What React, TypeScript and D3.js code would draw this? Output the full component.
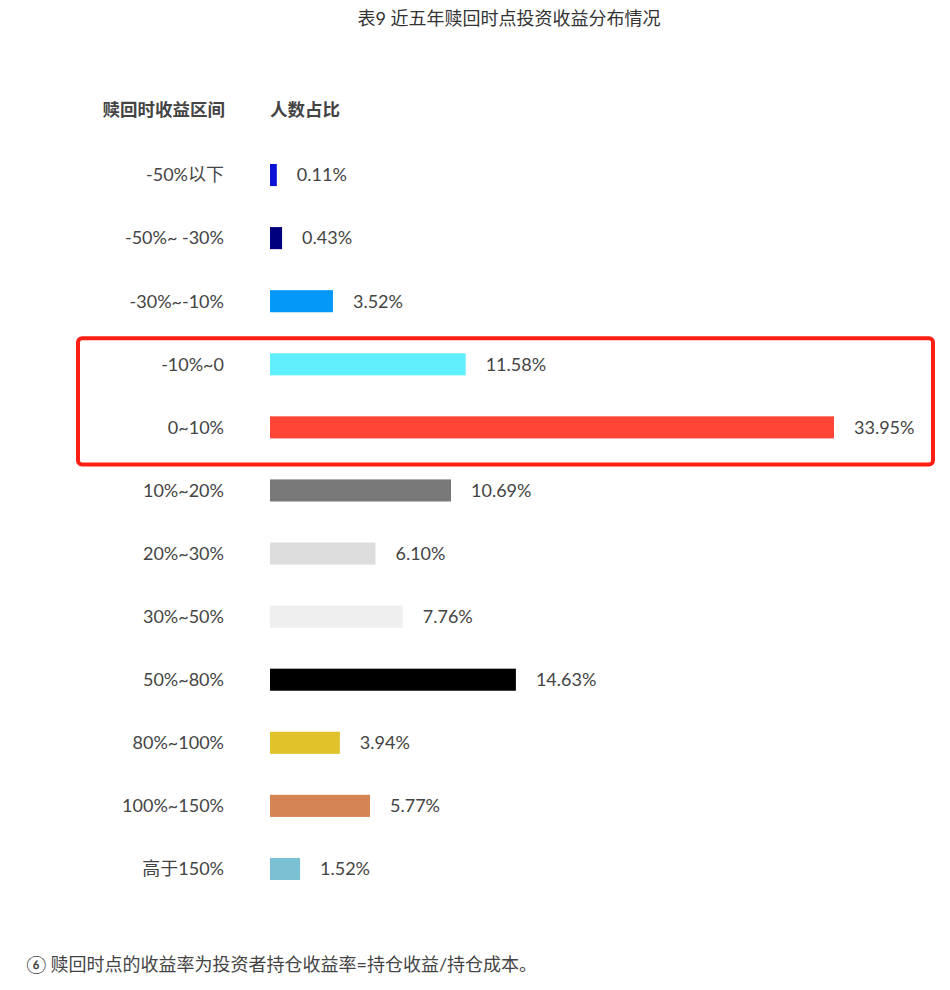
import React from "react";
import * as d3 from "d3";

const title = "表9 近五年赎回时点投资收益分布情况";
const headerCategory = "赎回时收益区间";
const headerValue = "人数占比";
const footnote = "⑥ 赎回时点的收益率为投资者持仓收益率=持仓收益/持仓成本。";

const categories = [
  "-50%以下",
  "-50%~ -30%",
  "-30%~-10%",
  "-10%~0",
  "0~10%",
  "10%~20%",
  "20%~30%",
  "30%~50%",
  "50%~80%",
  "80%~100%",
  "100%~150%",
  "高于150%",
];
const values = [0.11, 0.43, 3.52, 11.58, 33.95, 10.69, 6.1, 7.76, 14.63, 3.94, 5.77, 1.52];
const colors = [
  "#0b12d6",
  "#00007f",
  "#0399f9",
  "#60f0fd",
  "#ff4535",
  "#787878",
  "#dcdcdc",
  "#efefef",
  "#000000",
  "#e0c22a",
  "#d48352",
  "#7cc1d3",
];
const highlighted = ["-10%~0", "0~10%"];

const W = 950;
const H = 990;
const FONT = "Lato, 'Noto Sans CJK SC', sans-serif";

export default function App() {
  const x0 = 270;
  const x = d3.scaleLinear().domain([0, 33.95]).range([5, 564]);
  const y = d3
    .scaleBand<string>()
    .domain(categories)
    .range([143.5, 900.5])
    .paddingInner(0.65)
    .paddingOuter(0.325);
  const bh = y.bandwidth();
  const hiY0 = y(highlighted[0])! - (y.step() - bh) / 2;
  const hiY1 = y(highlighted[highlighted.length - 1])! + bh + (y.step() - bh) / 2;

  return (
    <svg
      width={W}
      height={H}
      style={{ position: "absolute", left: 0, top: 0, background: "#fff" }}
      fontFamily={FONT}
    >
      <text x={509} y={25} textAnchor="middle" fontSize={18} fill="#333">
        {title}
      </text>
      <text x={225} y={116} textAnchor="end" fontSize={17.5} fontWeight={700} fill="#444">
        {headerCategory}
      </text>
      <text x={270} y={116} textAnchor="start" fontSize={17.5} fontWeight={700} fill="#444">
        {headerValue}
      </text>
      {categories.map((c, i) => {
        const yy = y(c)!;
        const w = x(values[i]);
        return (
          <g key={c}>
            <text x={224} y={yy + bh / 2} dy="0.35em" textAnchor="end" fontSize={18} fill="#444">
              {c}
            </text>
            <rect x={x0} y={yy} width={w} height={bh} fill={colors[i]} />
            <text x={x0 + w + 20} y={yy + bh / 2} dy="0.35em" fontSize={18} fill="#444">
              {values[i].toFixed(2)}%
            </text>
          </g>
        );
      })}
      <rect
        x={78}
        y={hiY0 + 5.5}
        width={855}
        height={hiY1 - hiY0}
        rx={4}
        fill="none"
        stroke="#ff2015"
        strokeWidth={4}
      />
      <text x={26} y={971} fontSize={18} fill="#444">
        {footnote}
      </text>
    </svg>
  );
}
